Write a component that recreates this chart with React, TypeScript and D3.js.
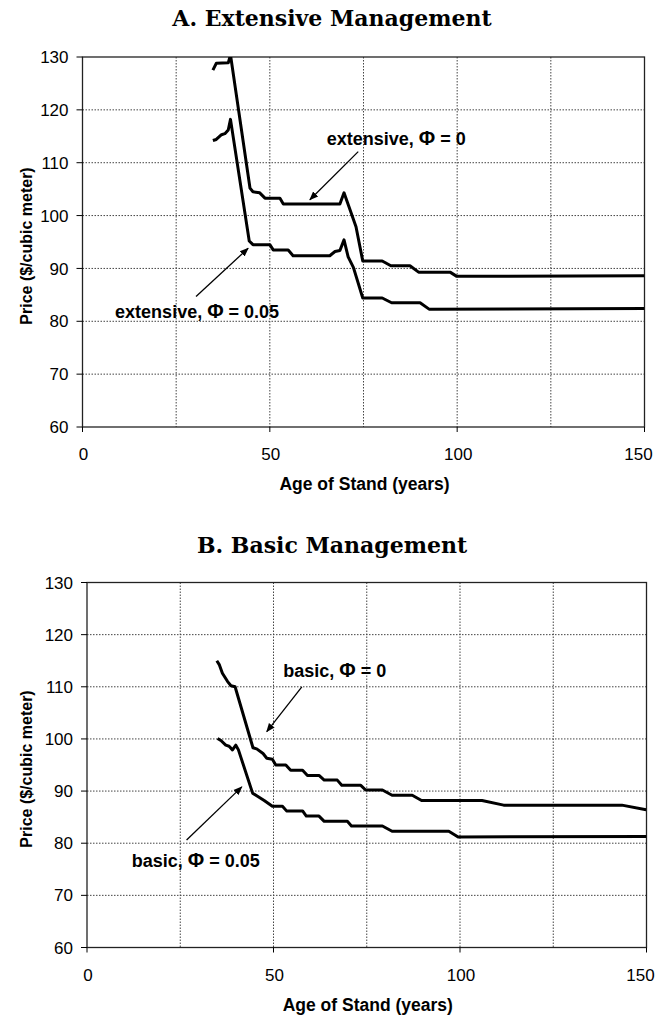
import React from "react";
import * as d3 from "d3";

// ---------- data ----------
const yTicks = [60, 70, 80, 90, 100, 110, 120, 130];
const xTickLabels = [0, 50, 100, 150];
const xGrid = [25, 50, 75, 100, 125];

const extAge0 = [34.8, 35.7, 38.9, 39.5, 44.7, 45.5, 47.3, 48.7, 52.7, 53.6, 68.7, 69.8, 71.1, 73.0, 74.8, 80.0, 82.3, 87.4, 89.7, 98.1, 99.9, 150];
const extPrice0 = [127.5, 128.8, 128.9, 130.4, 105.2, 104.5, 104.3, 103.3, 103.3, 102.2, 102.2, 104.3, 101.7, 97.9, 91.4, 91.4, 90.5, 90.5, 89.3, 89.3, 88.5, 88.6];

const extAge05 = [34.8, 35.7, 37.1, 38.0, 38.9, 39.5, 44.5, 45.5, 50.0, 50.9, 54.9, 56.2, 66.0, 67.4, 68.7, 69.8, 70.9, 72.3, 74.8, 80.0, 82.5, 90.1, 92.5, 150];
const extPrice05 = [114.2, 114.4, 115.3, 115.5, 116.2, 118.2, 95.2, 94.5, 94.5, 93.5, 93.5, 92.4, 92.4, 93.2, 93.4, 95.4, 92.2, 90.2, 84.4, 84.4, 83.5, 83.5, 82.3, 82.4];

const basAge0 = [34.8, 35.5, 36.3, 37.7, 38.6, 39.7, 44.5, 45.5, 47.2, 48.2, 49.7, 50.6, 53.3, 54.6, 57.8, 59.1, 62.2, 63.6, 67.1, 68.3, 73.4, 74.7, 79.2, 81.8, 87.2, 89.7, 105.9, 111.7, 143.4, 149.9];
const basPrice0 = [115.0, 114.2, 112.6, 111.0, 110.2, 110.0, 98.3, 98.1, 97.2, 96.3, 96.1, 95.0, 95.0, 94.0, 94.0, 93.0, 93.0, 92.1, 92.1, 91.1, 91.1, 90.2, 90.2, 89.2, 89.2, 88.2, 88.2, 87.3, 87.3, 86.4];

const basAge05 = [35.0, 35.9, 37.2, 38.1, 39.0, 39.9, 40.6, 44.4, 45.5, 47.5, 49.7, 52.4, 53.5, 57.8, 58.8, 62.2, 63.6, 69.8, 70.9, 79.2, 81.8, 97.0, 99.5, 150];
const basPrice05 = [100.1, 99.7, 98.8, 98.6, 97.9, 98.8, 97.9, 89.6, 89.1, 88.2, 87.1, 87.1, 86.2, 86.2, 85.2, 85.2, 84.2, 84.2, 83.3, 83.3, 82.3, 82.3, 81.2, 81.3];

// annotations (data coordinates): text anchor, arrow start, arrow end
const annotA = [
  { label: "extensive, ", phi: "0", tx: 65.2, ty: 113.4, fx: 73.6, fy: 112.1, ex: 60.7, ey: 103.0 },
  { label: "extensive, ", phi: "0.05", tx: 8.7, ty: 80.6, fx: 30.3, fy: 84.7, ex: 44.2, ey: 93.8 },
];
const annotB = [
  { label: "basic, ", phi: "0", tx: 52.6, ty: 111.9, fx: 57.6, fy: 110.0, ex: 48.2, ey: 101.4 },
  { label: "basic, ", phi: "0.05", tx: 12.0, ty: 75.5, fx: 26.7, fy: 80.6, ex: 41.5, ey: 90.8 },
];

const zip = (xs: number[], ys: number[]) => xs.map((x, i) => [x, ys[i]] as [number, number]);

const panels = [
  {
    id: "A",
    title: "A. Extensive Management",
    titleY: 26,
    left: 82.5, right: 644.5, top: 57, bottom: 427,
    series: [zip(extAge0, extPrice0), zip(extAge05, extPrice05)],
    annots: annotA,
  },
  {
    id: "B",
    title: "B. Basic Management",
    titleY: 553,
    left: 87, right: 646.5, top: 582.5, bottom: 947.5,
    series: [zip(basAge0, basPrice0), zip(basAge05, basPrice05)],
    annots: annotB,
  },
];

const SANS = "'Liberation Sans', Arial, Helvetica, sans-serif";
const SERIF = "'DejaVu Serif', 'Liberation Serif', serif";

function Panel({ p }: { p: (typeof panels)[number] }) {
  const x = d3.scaleLinear().domain([0, 150]).range([p.left, p.right]);
  const y = d3.scaleLinear().domain([60, 130]).range([p.bottom, p.top]);
  const line = d3.line<[number, number]>().x((d) => x(d[0])).y((d) => y(d[1]));
  const clipId = "clip" + p.id;
  const cx = (p.left + p.right) / 2;
  return (
    <g>
      <defs>
        <clipPath id={clipId}>
          <rect x={p.left} y={p.top} width={p.right - p.left} height={p.bottom - p.top} />
        </clipPath>
        <marker id={"arr" + p.id} viewBox="0 0 10 10" refX="9" refY="5" markerWidth="9" markerHeight="9" orient="auto" markerUnits="userSpaceOnUse">
          <path d="M0,1 L10,5 L0,9 z" fill="#000" />
        </marker>
      </defs>
      <text x={332} y={p.titleY} textAnchor="middle" fontFamily={SERIF} fontWeight="bold" fontSize={22}>
        {p.title}
      </text>
      {/* gridlines */}
      {yTicks.slice(1, -1).map((t) => (
        <line key={"h" + t} x1={p.left} x2={p.right} y1={y(t)} y2={y(t)} stroke="#444" strokeWidth={1} strokeDasharray="1.5,1.5" />
      ))}
      {xGrid.map((t) => (
        <line key={"v" + t} x1={x(t)} x2={x(t)} y1={p.top} y2={p.bottom} stroke="#444" strokeWidth={1} strokeDasharray="1.5,1.5" />
      ))}
      {/* frame */}
      <rect x={p.left} y={p.top} width={p.right - p.left} height={p.bottom - p.top} fill="none" stroke="#222" strokeWidth={1.3} />
      {/* y ticks */}
      {yTicks.map((t) => (
        <g key={"yt" + t}>
          <line x1={p.left - 6} x2={p.left} y1={y(t)} y2={y(t)} stroke="#000" strokeWidth={1} />
          <text x={p.left - 14} y={y(t)} dy="0.36em" textAnchor="end" fontFamily={SANS} fontSize={17}>
            {t}
          </text>
        </g>
      ))}
      {/* x ticks */}
      {xTickLabels.map((t) => (
        <g key={"xt" + t}>
          <line x1={x(t)} x2={x(t)} y1={p.bottom} y2={p.bottom + 5} stroke="#000" strokeWidth={1} />
          <text x={x(t) + (t === 150 ? -6 : 1)} y={p.bottom + 27} dy="0.36em" textAnchor="middle" fontFamily={SANS} fontSize={17}>
            {t}
          </text>
        </g>
      ))}
      <text x={cx + 1} y={p.bottom + 57} dy="0.36em" textAnchor="middle" fontFamily={SANS} fontWeight="bold" fontSize={17.5}>
        Age of Stand (years)
      </text>
      <text
        transform={`translate(26,${(p.top + p.bottom) / 2 + 4}) rotate(-90)`}
        textAnchor="middle"
        dy="0.36em"
        fontFamily={SANS}
        fontWeight="bold"
        fontSize={16}
      >
        Price ($/cubic meter)
      </text>
      {/* series */}
      <g clipPath={`url(#${clipId})`}>
        {p.series.map((s, i) => (
          <path key={"s" + i} d={line(s) || ""} fill="none" stroke="#000" strokeWidth={3} strokeLinejoin="round" />
        ))}
      </g>
      {/* annotations */}
      {p.annots.map((a, i) => (
        <g key={"a" + i}>
          <line x1={x(a.fx)} y1={y(a.fy)} x2={x(a.ex)} y2={y(a.ey)} stroke="#000" strokeWidth={1.3} markerEnd={`url(#arr${p.id})`} />
          <text x={x(a.tx)} y={y(a.ty)} fontFamily={SANS} fontWeight="bold" fontSize={18}>
            {a.label}
            <tspan fontSize={20}>Φ</tspan>
            {" = " + a.phi}
          </text>
        </g>
      ))}
    </g>
  );
}

export default function App() {
  return (
    <svg width={663} height={1017} style={{ position: "absolute", left: 0, top: 0, background: "#fff" }}>
      <rect width={663} height={1017} fill="#fff" />
      {panels.map((p) => (
        <Panel key={p.id} p={p} />
      ))}
    </svg>
  );
}
